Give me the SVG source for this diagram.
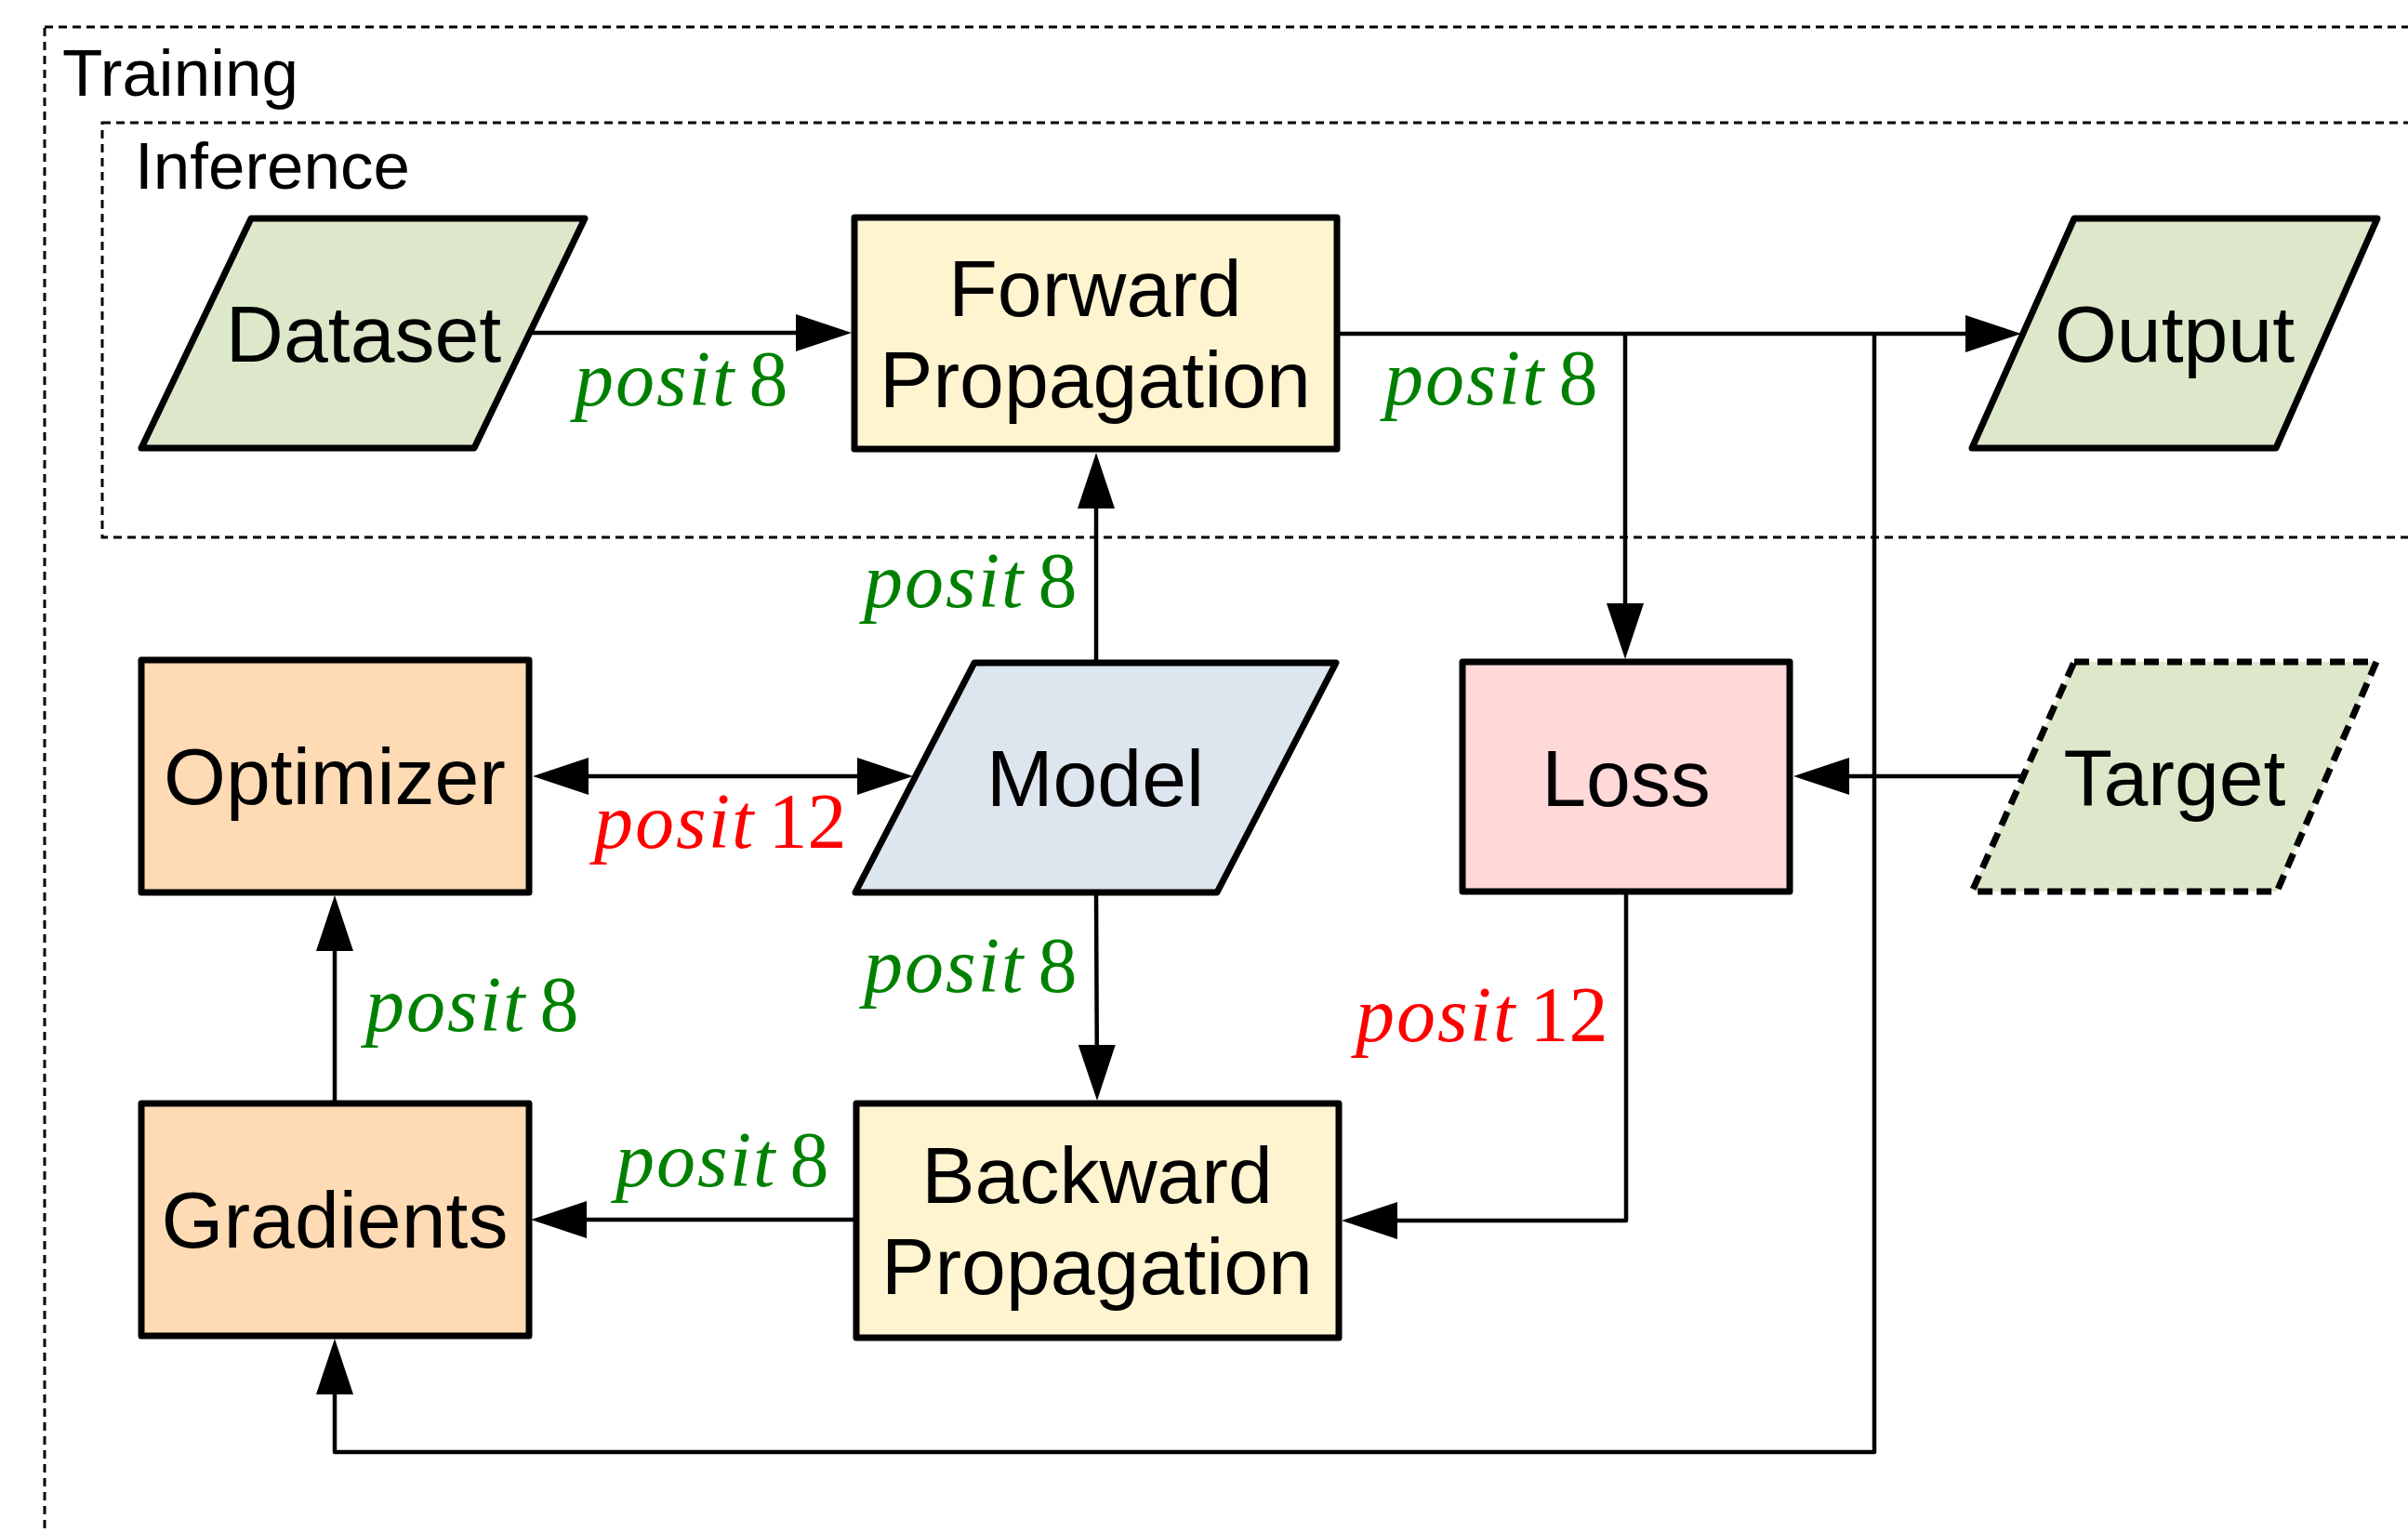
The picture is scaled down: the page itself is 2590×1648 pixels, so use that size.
<svg xmlns="http://www.w3.org/2000/svg" width="2590" height="1648" viewBox="0 0 2590 1648">
  <defs>
    <style>
      .group { fill: none; stroke: #000; stroke-width: 3; stroke-dasharray: 9 6; }
      .grouplbl { font-family: "Liberation Sans", Arial, sans-serif; font-size: 71px; fill: #000; }
      .node { stroke: #000; stroke-width: 7; stroke-linejoin: round; }
      .dashed { stroke-dasharray: 16 9; stroke-linejoin: miter; }
      .data { fill: #dde8cb; }
      .proc { fill: #fff4d0; }
      .opt { fill: #fedbb4; }
      .loss { fill: #ffd8d8; }
      .model { fill: #dde5ef; }
      .ntext { font-family: "Liberation Sans", Arial, sans-serif; font-size: 86px; fill: #000; text-anchor: middle; }
      .edge { fill: none; stroke: #000; stroke-width: 4.5; stroke-linejoin: round; }
      .lbl { font-family: "Liberation Serif", "Times New Roman", serif; font-size: 84px; }
      .lbl .it { font-style: italic; letter-spacing: 2px; }
      .g { fill: #008000; }
      .r { fill: #ff0000; }
    </style>
    <marker id="arrow" markerUnits="userSpaceOnUse" markerWidth="60" markerHeight="40" viewBox="0 0 60 40" refX="50" refY="20" orient="auto-start-reverse">
      <path d="M0,0 L60,20 L0,40 Z" fill="#000"/>
    </marker>
  </defs>

  <rect width="2590" height="1648" fill="#fff"/>

  <!-- container groups -->
  <g id="training">
    <rect class="group" x="48" y="29" width="2700" height="1700"/>
    <text class="grouplbl" x="67" y="103">Training</text>
  </g>
  <g id="inference">
    <rect class="group" x="110" y="132" width="2600" height="446"/>
    <text class="grouplbl" x="145" y="203">Inference</text>
  </g>

  <!-- connectors -->
  <g id="connectors">
    <path class="edge" d="M570,358 H906" marker-end="url(#arrow)"/>
    <path class="edge" d="M1438,359 H2164" marker-end="url(#arrow)"/>
    <path class="edge" d="M1748,359 V699" marker-end="url(#arrow)"/>
    <path class="edge" d="M2016,359 V1562 H360 V1450" marker-end="url(#arrow)"/>
    <path class="edge" d="M1179,713 V497" marker-end="url(#arrow)"/>
    <path class="edge" d="M583,835 H972" marker-start="url(#arrow)" marker-end="url(#arrow)"/>
    <path class="edge" d="M2175,835 H1939" marker-end="url(#arrow)"/>
    <path class="edge" d="M1179,960 L1180,1174" marker-end="url(#arrow)"/>
    <path class="edge" d="M1749,959 V1313 H1453" marker-end="url(#arrow)"/>
    <path class="edge" d="M921,1312 H581" marker-end="url(#arrow)"/>
    <path class="edge" d="M360,1187 V973" marker-end="url(#arrow)"/>
  </g>

  <!-- connector labels -->
  <g id="labels">
    <text class="lbl g" x="618" y="436"><tspan class="it">posit</tspan><tspan dx="14">8</tspan></text>
    <text class="lbl g" x="1489" y="435"><tspan class="it">posit</tspan><tspan dx="14">8</tspan></text>
    <text class="lbl g" x="929" y="653"><tspan class="it">posit</tspan><tspan dx="14">8</tspan></text>
    <text class="lbl r" x="639" y="912"><tspan class="it">posit</tspan><tspan dx="14">12</tspan></text>
    <text class="lbl g" x="929" y="1067"><tspan class="it">posit</tspan><tspan dx="14">8</tspan></text>
    <text class="lbl g" x="393" y="1109"><tspan class="it">posit</tspan><tspan dx="14">8</tspan></text>
    <text class="lbl r" x="1458" y="1120"><tspan class="it">posit</tspan><tspan dx="14">12</tspan></text>
    <text class="lbl g" x="662" y="1276"><tspan class="it">posit</tspan><tspan dx="14">8</tspan></text>
  </g>

  <!-- nodes -->
  <g id="dataset">
    <polygon class="node data" points="270,235 629,235 510,482 152,482"/>
    <text class="ntext" x="391" y="389">Dataset</text>
  </g>
  <g id="forward">
    <rect class="node proc" x="919" y="234" width="519" height="249"/>
    <text class="ntext" x="1178" y="340">Forward</text>
    <text class="ntext" x="1178" y="438">Propagation</text>
  </g>
  <g id="output">
    <polygon class="node data" points="2231,235 2557,235 2448,482 2121,482"/>
    <text class="ntext" x="2339" y="389">Output</text>
  </g>
  <g id="optimizer">
    <rect class="node opt" x="152" y="710" width="417" height="250"/>
    <text class="ntext" x="360" y="865">Optimizer</text>
  </g>
  <g id="model">
    <polygon class="node model" points="1048,713 1437,713 1309,960 920,960"/>
    <text class="ntext" x="1178" y="867">Model</text>
  </g>
  <g id="loss">
    <rect class="node loss" x="1573" y="712" width="352" height="247"/>
    <text class="ntext" x="1749" y="867">Loss</text>
  </g>
  <g id="target">
    <polygon class="node data dashed" points="2231,712 2556,712 2449,959 2121,959"/>
    <text class="ntext" x="2339" y="866">Target</text>
  </g>
  <g id="gradients">
    <rect class="node opt" x="152" y="1187" width="417" height="250"/>
    <text class="ntext" x="360" y="1342">Gradients</text>
  </g>
  <g id="backward">
    <rect class="node proc" x="921" y="1187" width="519" height="252"/>
    <text class="ntext" x="1180" y="1294">Backward</text>
    <text class="ntext" x="1180" y="1392">Propagation</text>
  </g>
</svg>
